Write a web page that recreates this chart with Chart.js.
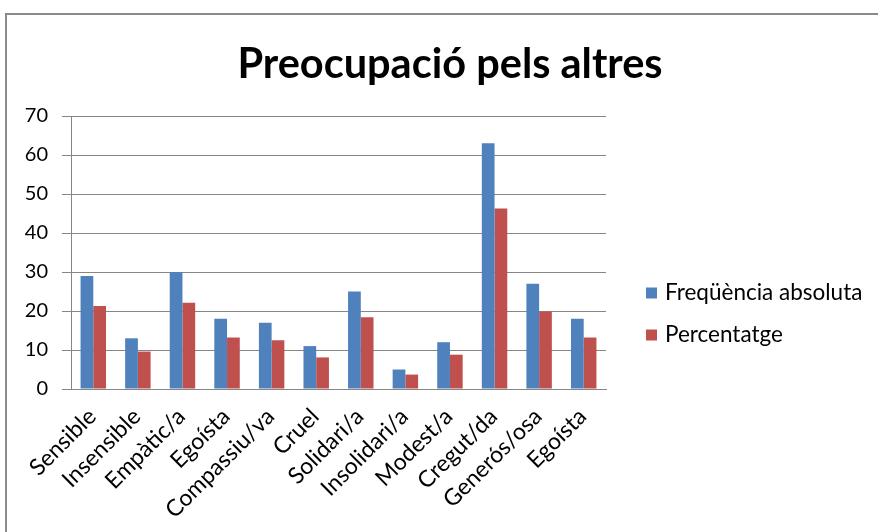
<!DOCTYPE html>
<html lang="ca">
<head>
    <meta charset="UTF-8">
    <title>Preocupació pels altres</title>
    <style>
        html, body {
            margin: 0;
            padding: 0;
            background: #fff;
            overflow: hidden;
        }
        .frame {
            position: absolute;
            left: 5px;
            top: 13px;
            width: 1000px;
            height: 1000px;
            border-left: 2px solid #8a8a8a;
            border-top: 2px solid #8a8a8a;
        }
        .chart-box {
            position: absolute;
            left: 0;
            top: 0;
            width: 878px;
            height: 532px;
        }
    </style>
    <script src="https://cdn.jsdelivr.net/npm/chart.js@4/dist/chart.umd.min.js"></script>
</head>
<body>
    <div class="frame"></div>
    <div class="chart-box">
        <canvas id="grafic" width="878" height="532"></canvas>
    </div>

    <script>
        // Dades del gràfic
        const categories = ['Sensible', 'Insensible', 'Empàtic/a', 'Egoísta', 'Compassiu/va', 'Cruel',
            'Solidari/a', 'Insolidari/a', 'Modest/a', 'Cregut/da', 'Generós/osa', 'Egoísta'];
        const frequencia = [29, 13, 30, 18, 17, 11, 25, 5, 12, 63, 27, 18];
        const percentatge = [21.3, 9.6, 22.1, 13.2, 12.5, 8.1, 18.4, 3.7, 8.8, 46.3, 19.9, 13.2];
        const yMin = 0, yMax = 70, yStep = 10;

        const titol = 'Preocupació pels altres';
        const fontFamily = 'Lato, "Open Sans", sans-serif';

        // Títol i llegenda dibuixats a mà (centrat sobre tot el gràfic / a la dreta)
        const titolILlegenda = {
            id: 'titolILlegenda',
            afterDraw(chart) {
                const ctx = chart.ctx;
                ctx.save();
                ctx.fillStyle = '#000';
                ctx.textAlign = 'center';
                ctx.textBaseline = 'alphabetic';
                ctx.font = 'bold 41.5px ' + fontFamily;
                ctx.fillText(titol, 450, 78);

                ctx.textAlign = 'left';
                ctx.font = '22.5px ' + fontFamily;
                chart.data.datasets.forEach((ds, i) => {
                    const y = 293 + i * 42;
                    ctx.fillStyle = ds.backgroundColor;
                    ctx.fillRect(646, y - 5.5, 11, 11);
                    ctx.fillStyle = '#000';
                    ctx.fillText(ds.label, 665, y + 7);
                });
                ctx.restore();
            }
        };

        const ctx = document.getElementById('grafic').getContext('2d');
        const grafic = new Chart(ctx, {
            type: 'bar',
            data: {
                labels: categories,
                datasets: [{
                    label: 'Freqüència absoluta',
                    data: frequencia,
                    backgroundColor: '#4F81BD',
                    categoryPercentage: 0.571,
                    barPercentage: 1
                }, {
                    label: 'Percentatge',
                    data: percentatge,
                    backgroundColor: '#C0504D',
                    categoryPercentage: 0.571,
                    barPercentage: 1
                }]
            },
            options: {
                responsive: false,
                animation: false,
                layout: {
                    padding: { left: 0, right: 272, top: 116, bottom: 0 }
                },
                plugins: {
                    legend: { display: false },
                    tooltip: { enabled: false },
                    title: { display: false }
                },
                scales: {
                    x: {
                        afterFit: s => { s.height = 143; },
                        grid: { display: false },
                        border: { display: true, color: '#868686', width: 1 },
                        ticks: {
                            color: '#000',
                            font: { family: fontFamily, size: 23 },
                            maxRotation: 45,
                            minRotation: 45,
                            autoSkip: false,
                            labelOffset: -1,
                            padding: 6
                        }
                    },
                    y: {
                        min: yMin,
                        max: yMax,
                        afterFit: s => { s.width = 71; },
                        grid: { color: '#868686', lineWidth: 1, tickLength: 9 },
                        border: { display: true, color: '#868686', width: 1 },
                        ticks: {
                            stepSize: yStep,
                            color: '#000',
                            font: { family: fontFamily, size: 20 },
                            padding: 14
                        }
                    }
                }
            },
            plugins: [titolILlegenda]
        });
    </script>
</body>
</html>
